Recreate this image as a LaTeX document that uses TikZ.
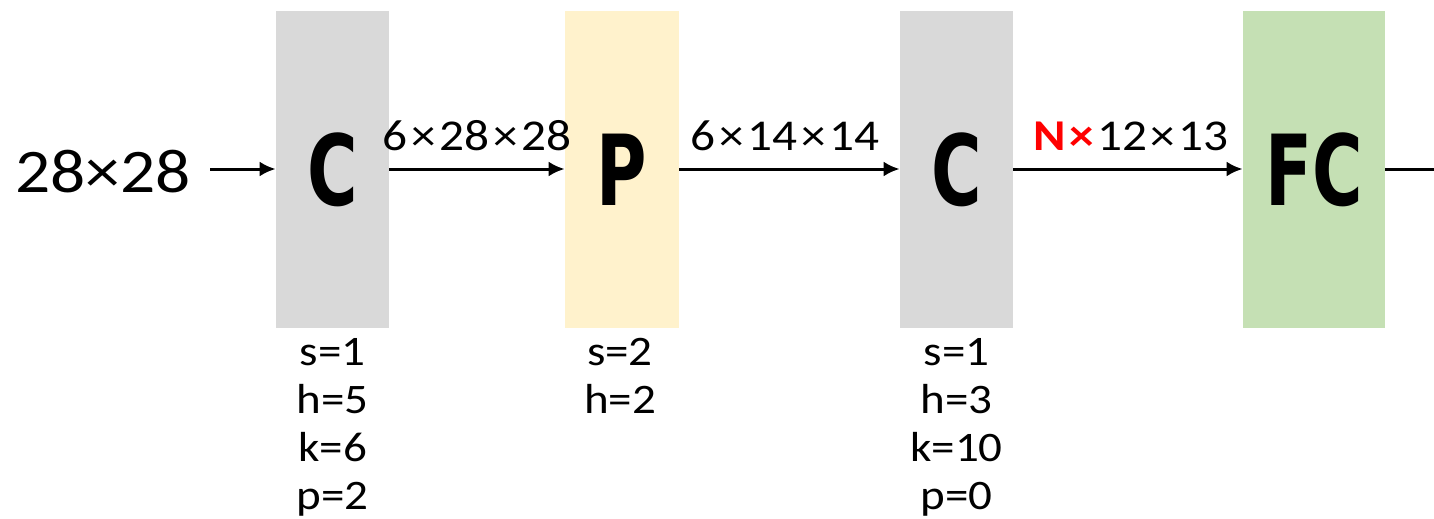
\documentclass[tikz,border=0pt]{standalone}
\usepackage{fontspec}
\setmainfont{Carlito}[FakeStretch=1.12]
\newfontfamily\heavyfont{DejaVu Sans Condensed}
\usetikzlibrary{arrows.meta}
\definecolor{convgray}{HTML}{D9D9D9}
\definecolor{poolyellow}{HTML}{FFF2CC}
\definecolor{fcgreen}{HTML}{C5E0B4}
\definecolor{hotred}{HTML}{FF0000}
% multiplication sign with a little air around it
\newcommand{\tms}{\hspace{0.08em}×\hspace{0.08em}}
\newcommand{\blocklabel}[1]{\scalebox{0.78}[1]{#1}}
\begin{document}
\begin{tikzpicture}[x=0.5pt,y=-0.5pt,
  layer/.style={draw=none,minimum width=#1*0.5pt,minimum height=317*0.5pt,inner sep=0pt,
    font=\heavyfont\bfseries\fontsize{49}{49}\selectfont},
  flow/.style={line width=1.5pt,-{Latex[length=8pt,width=7.5pt]}},
  dimlabel/.style={font=\fontsize{22}{26}\selectfont,inner sep=0pt},
  params/.style={font=\fontsize{21}{24}\selectfont,align=center,inner sep=0pt,anchor=north}]
  \useasboundingbox (0,0) rectangle (1434,519);

  % layer blocks
  \node[layer=113,fill=convgray]   (c1) at (332.5,169.5) {\blocklabel{C}};
  \node[layer=114,fill=poolyellow] (p1) at (622,169.5) {\blocklabel{P}};
  \node[layer=113,fill=convgray]   (c2) at (956.5,169.5) {\blocklabel{C}};
  \node[layer=142,fill=fcgreen]    (fc) at (1314,169.5) {\blocklabel{FC}};

  % input
  \node[font=\fontsize{31}{36}\selectfont,inner sep=0pt] (in) at (103,172) {28×28};
  \coordinate (instart) at (210,169);
  \coordinate (outend) at (1434,169);

  % data flow
  \draw[flow] (instart) -- (c1.west |- instart);
  \draw[flow] (c1.east |- instart) -- (p1.west |- instart);
  \draw[flow] (p1.east |- instart) -- (c2.west |- instart);
  \draw[flow] (c2.east |- instart) -- (fc.west |- instart);
  \draw[line width=1.5pt] (fc.east |- instart) -- (outend);

  % tensor sizes
  \node[dimlabel] (d1) at (477,136) {6\tms 28\tms 28};
  \node[dimlabel] (d2) at (785,136) {6\tms 14\tms 14};
  \node[dimlabel] (d3) at (1131,136) {\textcolor{hotred}{\bfseries N\tms}12\tms 13};

  % layer parameters
  \node[params] (pc1) at (332.5,338) {s=1\\h=5\\k=6\\p=2};
  \node[params] (pp1) at (620,338) {s=2\\h=2};
  \node[params] (pc2) at (956.5,338) {s=1\\h=3\\k=10\\p=0};
\end{tikzpicture}
\end{document}
